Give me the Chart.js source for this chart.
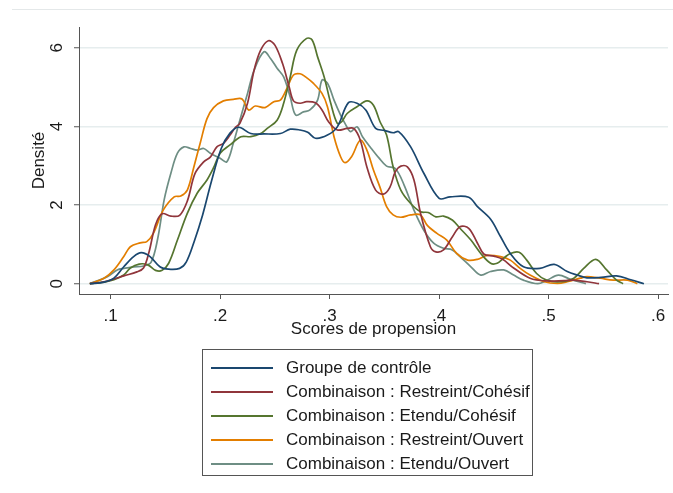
<!DOCTYPE html>
<html>
<head>
<meta charset="utf-8">
<script src="https://cdn.jsdelivr.net/npm/chart.js@4.4.0/dist/chart.umd.min.js"></script>
<style>
  html, body { margin: 0; padding: 0; background: #fff; }
  #wrap { position: relative; width: 673px; height: 493px; }
  #topRule { position: absolute; left: 12px; right: 0; top: 9px; border-top: 1px solid #e4e8e9; }
  #legend {
    position: absolute; left: 202px; top: 349px; width: 331px; height: 127px;
    border: 1px solid #555; box-sizing: border-box;
    font-family: "Liberation Sans", Arial, sans-serif; font-size: 17px; color: #1a1a1a;
  }
  #legend .row { position: absolute; left: 0; height: 24px; width: 100%; }
  #legend .swatch { position: absolute; left: 8px; top: 11px; width: 62px; height: 2px; }
  #legend .label { position: absolute; left: 83px; top: 2px; white-space: nowrap; line-height: 20px; }
</style>
</head>
<body>
<div id="wrap">
  <div id="topRule"></div>
  <canvas id="densityChart" width="673" height="493"></canvas>
  <div id="legend"></div>
</div>
<script>
  // kernel density estimates, [score, density]
  const groupeControle = [
    [0.081, 0], [0.094, 0.04], [0.103, 0.14], [0.112, 0.43], [0.121, 0.69], [0.128, 0.79],
    [0.136, 0.69], [0.145, 0.43], [0.153, 0.37], [0.163, 0.39], [0.169, 0.55], [0.176, 1.05],
    [0.184, 1.75], [0.192, 2.6], [0.201, 3.44], [0.209, 3.83], [0.217, 3.98], [0.228, 3.82],
    [0.240, 3.81], [0.255, 3.82], [0.264, 3.93], [0.273, 3.91], [0.280, 3.85], [0.287, 3.70],
    [0.298, 3.78], [0.307, 3.99], [0.317, 4.60], [0.325, 4.59], [0.333, 4.42], [0.342, 3.95],
    [0.350, 3.90], [0.358, 3.84], [0.363, 3.87], [0.374, 3.48], [0.386, 2.81], [0.400, 2.17],
    [0.410, 2.21], [0.427, 2.20], [0.435, 1.96], [0.447, 1.64], [0.456, 1.20], [0.465, 0.77],
    [0.477, 0.43], [0.492, 0.39], [0.505, 0.49], [0.517, 0.31], [0.526, 0.22], [0.535, 0.15],
    [0.548, 0.16], [0.562, 0.20], [0.575, 0.10], [0.587, 0]
  ];
  const restreintCohesif = [
    [0.081, 0], [0.094, 0.05], [0.103, 0.12], [0.112, 0.2], [0.124, 0.3], [0.130, 0.40],
    [0.135, 0.80], [0.141, 1.5], [0.147, 1.78], [0.155, 1.72], [0.163, 1.74], [0.170, 2.1],
    [0.177, 2.8], [0.185, 3.1], [0.191, 3.22], [0.197, 3.48], [0.203, 3.57], [0.209, 3.78],
    [0.214, 3.98], [0.218, 4.08], [0.225, 4.59], [0.231, 5.43], [0.237, 5.94], [0.244, 6.18],
    [0.250, 6.07], [0.257, 5.60], [0.263, 5.01], [0.267, 4.65], [0.273, 4.59], [0.279, 4.63],
    [0.287, 4.60], [0.293, 4.42], [0.299, 4.12], [0.307, 3.91], [0.316, 3.95], [0.322, 3.95],
    [0.328, 3.65], [0.334, 2.97], [0.342, 2.38], [0.349, 2.28], [0.355, 2.45], [0.360, 2.85],
    [0.365, 2.99], [0.371, 2.97], [0.377, 2.64], [0.383, 1.79], [0.392, 0.94], [0.397, 0.81],
    [0.404, 0.86], [0.412, 1.19], [0.419, 1.45], [0.427, 1.41], [0.435, 1.03], [0.441, 0.75],
    [0.450, 0.70], [0.458, 0.62], [0.468, 0.40], [0.483, 0.14], [0.498, 0.07], [0.514, 0.08],
    [0.523, 0.09], [0.535, 0.05], [0.546, 0]
  ];
  const etenduCohesif = [
    [0.081, 0], [0.094, 0.04], [0.103, 0.10], [0.112, 0.22], [0.118, 0.40], [0.126, 0.5],
    [0.134, 0.48], [0.141, 0.34], [0.147, 0.34], [0.153, 0.52], [0.161, 1.11], [0.170, 1.79],
    [0.179, 2.30], [0.188, 2.64], [0.194, 2.95], [0.200, 3.32], [0.209, 3.53], [0.219, 3.74],
    [0.228, 3.74], [0.237, 3.82], [0.243, 3.95], [0.252, 4.16], [0.258, 4.59], [0.264, 5.26],
    [0.270, 5.94], [0.279, 6.24], [0.284, 6.20], [0.289, 5.77], [0.295, 5.26], [0.301, 4.59],
    [0.307, 4.08], [0.311, 4.12], [0.316, 4.33], [0.325, 4.50], [0.334, 4.65], [0.340, 4.54],
    [0.346, 4.12], [0.352, 3.78], [0.358, 2.97], [0.365, 2.38], [0.374, 2.04], [0.383, 1.83],
    [0.390, 1.81], [0.397, 1.70], [0.404, 1.72], [0.412, 1.62], [0.419, 1.41], [0.429, 1.11],
    [0.438, 0.77], [0.447, 0.52], [0.453, 0.52], [0.459, 0.65], [0.465, 0.77], [0.473, 0.80],
    [0.480, 0.60], [0.489, 0.26], [0.498, 0.09], [0.511, 0.05], [0.523, 0.14], [0.532, 0.39],
    [0.543, 0.62], [0.553, 0.35], [0.562, 0.09], [0.568, 0]
  ];
  const restreintOuvert = [
    [0.081, 0], [0.094, 0.14], [0.103, 0.35], [0.112, 0.69], [0.118, 0.94], [0.127, 1.04],
    [0.133, 1.07], [0.139, 1.28], [0.148, 1.87], [0.158, 2.21], [0.164, 2.23], [0.170, 2.38],
    [0.176, 2.97], [0.182, 3.6], [0.188, 4.2], [0.194, 4.48], [0.203, 4.65], [0.212, 4.69],
    [0.220, 4.70], [0.226, 4.42], [0.232, 4.52], [0.241, 4.48], [0.249, 4.63], [0.255, 4.67],
    [0.261, 4.97], [0.267, 5.31], [0.273, 5.34], [0.278, 5.26], [0.285, 5.10], [0.293, 4.84],
    [0.298, 4.50], [0.304, 3.74], [0.310, 3.23], [0.314, 3.08], [0.320, 3.23], [0.328, 3.65],
    [0.334, 3.40], [0.340, 2.89], [0.346, 2.45], [0.352, 1.96], [0.358, 1.75], [0.365, 1.69],
    [0.374, 1.75], [0.383, 1.75], [0.389, 1.49], [0.398, 1.28], [0.407, 1.11], [0.416, 0.77],
    [0.426, 0.60], [0.435, 0.62], [0.444, 0.72], [0.456, 0.69], [0.465, 0.60], [0.474, 0.39],
    [0.483, 0.22], [0.496, 0.05], [0.508, 0.01], [0.517, 0.05], [0.529, 0.14], [0.535, 0.18],
    [0.547, 0.14], [0.559, 0.09], [0.572, 0.09], [0.581, 0]
  ];
  const etenduOuvert = [
    [0.081, 0], [0.097, 0.18], [0.106, 0.35], [0.112, 0.39], [0.121, 0.43], [0.130, 0.45],
    [0.137, 0.55], [0.143, 1.15], [0.149, 2.15], [0.155, 2.81], [0.161, 3.32], [0.167, 3.48],
    [0.173, 3.44], [0.179, 3.40], [0.185, 3.44], [0.191, 3.32], [0.200, 3.19], [0.206, 3.10],
    [0.212, 3.57], [0.218, 4.16], [0.225, 4.84], [0.231, 5.43], [0.240, 5.90], [0.246, 5.73],
    [0.252, 5.48], [0.258, 5.26], [0.264, 4.75], [0.269, 4.29], [0.276, 4.37], [0.282, 4.42],
    [0.289, 4.67], [0.293, 5.18], [0.298, 5.10], [0.304, 4.67], [0.310, 4.29], [0.314, 4.08],
    [0.319, 3.87], [0.325, 3.99], [0.330, 3.74], [0.337, 3.48], [0.345, 3.20], [0.352, 2.99],
    [0.360, 2.93], [0.368, 2.51], [0.377, 1.87], [0.386, 1.36], [0.395, 1.03], [0.404, 0.90],
    [0.412, 0.86], [0.419, 0.69], [0.429, 0.43], [0.438, 0.22], [0.447, 0.31], [0.459, 0.35],
    [0.468, 0.22], [0.477, 0.09], [0.490, 0], [0.498, 0.08], [0.509, 0.22], [0.520, 0.11],
    [0.534, 0]
  ];

  const seriesLabels = [
    "Groupe de contrôle",
    "Combinaison : Restreint/Cohésif",
    "Combinaison : Etendu/Cohésif",
    "Combinaison : Restreint/Ouvert",
    "Combinaison : Etendu/Ouvert"
  ];
  const seriesData = [groupeControle, restreintCohesif, etenduCohesif, restreintOuvert, etenduOuvert];
  const seriesColors = ["#1a476f", "#90353b", "#55752f", "#e37e00", "#6e8e84"];

  const xTicks = [0.1, 0.2, 0.3, 0.4, 0.5, 0.6];
  const yTicks = [0, 2, 4, 6];

  const FONT = "'Liberation Sans', Arial, sans-serif";
  const textColor = "#1a1a1a";
  const axisColor = "#555";
  const gridColor = "#e6edee";

  const ctx = document.getElementById("densityChart").getContext("2d");

  const chart = new Chart(ctx, {
    type: "line",
    data: {
      datasets: seriesData.map((pts, i) => ({
        label: seriesLabels[i],
        data: pts.map(([x, y]) => ({ x, y })),
        borderColor: seriesColors[i],
        backgroundColor: seriesColors[i],
        borderWidth: 1.7,
        pointRadius: 0,
        tension: 0.35,
        fill: false,
      })),
    },
    options: {
      responsive: false,
      animation: false,
      layout: { padding: { top: 27, right: 5, left: 0, bottom: 0 } },
      plugins: {
        legend: { display: false },
        tooltip: { enabled: false },
      },
      scales: {
        x: {
          type: "linear",
          min: 0.0711,
          max: 0.609,
          afterBuildTicks: (s) => { s.ticks = xTicks.map((v) => ({ value: v })); },
          afterFit: (s) => { s.height = 199; },
          ticks: {
            color: textColor,
            font: { family: FONT, size: 17 },
            padding: 7,
            maxRotation: 0,
            callback: (v) => v.toFixed(1).replace(/^0/, ""),
          },
          grid: { drawOnChartArea: false, tickLength: 5, tickColor: axisColor },
          border: { color: axisColor, width: 1 },
          title: {
            display: true,
            text: "Scores de propension",
            color: textColor,
            font: { family: FONT, size: 17 },
            padding: { top: 0, bottom: 153 },
          },
        },
        y: {
          min: -0.262,
          max: 6.53,
          afterBuildTicks: (s) => { s.ticks = yTicks.map((v) => ({ value: v })); },
          afterFit: (s) => { s.width = 79; },
          ticks: {
            color: textColor,
            font: { family: FONT, size: 17 },
            minRotation: 90,
            maxRotation: 90,
            crossAlign: "center",
            padding: 12,
          },
          grid: { color: gridColor, lineWidth: 1.5, tickColor: axisColor, tickLength: 5, tickWidth: 1 },
          border: { color: axisColor, width: 1 },
          title: {
            display: true,
            text: "Densité",
            color: textColor,
            font: { family: FONT, size: 17 },
            padding: { top: 29, bottom: 0 },
          },
        },
      },
    },
  });

  // boxed legend, one entry per line
  const legendEl = document.getElementById("legend");
  chart.data.datasets.forEach((ds, i) => {
    const row = document.createElement("div");
    row.className = "row";
    row.style.top = (6 + i * 24) + "px";
    row.innerHTML = '<span class="swatch" style="background:' + ds.borderColor + '"></span>' +
      '<span class="label">' + ds.label + "</span>";
    legendEl.appendChild(row);
  });
</script>
</body>
</html>
